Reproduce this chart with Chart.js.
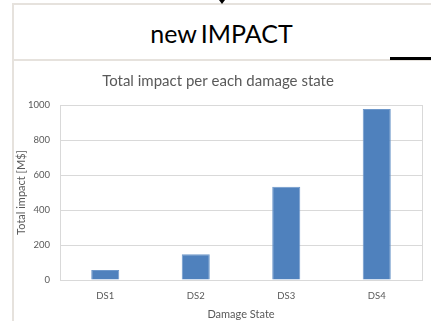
<!DOCTYPE html>
<html>
<head>
<meta charset="utf-8">
<script src="https://cdn.jsdelivr.net/npm/chart.js@4.4.0/dist/chart.umd.min.js"></script>
<style>
    html, body { margin: 0; padding: 0; background: #fff; }
    body { width: 431px; height: 321px; position: relative; overflow: hidden; font-family: Lato, 'Open Sans', sans-serif; }
    .frame-top { position: absolute; left: 12px; top: 3px; width: 419px; height: 2px; background: #e6e2dd; }
    .frame-left { position: absolute; left: 12px; top: 3px; width: 2px; height: 318px; background: #e6e2dd; }
    .divider { position: absolute; left: 12px; top: 59px; width: 419px; height: 2px; background: #e6e2dd; }
    .black-line { position: absolute; left: 390px; top: 57px; width: 41px; height: 3px; background: #000; }
    .arrow { position: absolute; left: 219px; top: 0px; width: 0; height: 0;
        border-left: 3px solid transparent; border-right: 3px solid transparent; border-top: 4px solid #000; }
    .heading { position: absolute; left: 12px; width: 419px; top: 15px; text-align: center;
        font-size: 25px; color: #000; line-height: 36px; word-spacing: -2px; }
    #chartWrap { position: absolute; left: 14px; top: 62px; width: 417px; height: 259px; }
</style>
</head>
<body>
<div class="frame-top"></div>
<div class="frame-left"></div>
<div class="divider"></div>
<div class="black-line"></div>
<div class="arrow"></div>
<div class="heading">new IMPACT</div>
<div id="chartWrap"><canvas id="impactChart"></canvas></div>

<script>
// chart data
const damageStates = ['DS1', 'DS2', 'DS3', 'DS4'];
const totalImpact = [57, 147, 533, 977];
const yTicks = [0, 200, 400, 600, 800, 1000];

const gray = '#595959';
const gridGray = '#d9d9d9';

// plot area outline like the Excel chart
const plotBorder = {
    id: 'plotBorder',
    beforeDatasetsDraw(chart) {
        const { ctx, chartArea: a } = chart;
        ctx.save();
        ctx.strokeStyle = gridGray;
        ctx.lineWidth = 1;
        ctx.strokeRect(Math.round(a.left) + 0.5, Math.round(a.top) + 0.5,
            Math.round(a.right - a.left), Math.round(a.bottom - a.top));
        ctx.restore();
    }
};

new Chart(document.getElementById('impactChart'), {
    type: 'bar',
    data: {
        labels: damageStates,
        datasets: [{
            data: totalImpact,
            backgroundColor: '#4f81bd',
            borderColor: '#6e98cb',
            borderWidth: 1,
            categoryPercentage: 1,
            barPercentage: 0.31
        }]
    },
    options: {
        responsive: true,
        maintainAspectRatio: false,
        animation: false,
        layout: { padding: { left: 0, right: 9, top: 0, bottom: 0 } },
        plugins: {
            legend: { display: false },
            tooltip: { enabled: false },
            title: {
                display: true,
                text: 'Total impact per each damage state',
                color: gray,
                font: { family: 'Lato', size: 15, weight: 'normal' },
                padding: { top: 10, bottom: 15 }
            }
        },
        scales: {
            x: {
                grid: { display: false, drawTicks: false },
                border: { display: true, color: gridGray },
                ticks: { color: gray, font: { family: 'Lato', size: 9.5 }, padding: 10 },
                title: {
                    display: true,
                    text: 'Damage State',
                    color: gray,
                    font: { family: 'Lato', size: 11 },
                    padding: { top: 3, bottom: 0 }
                },
                afterFit(scale) { scale.height = 41; }
            },
            y: {
                min: 0,
                max: 1000,
                afterBuildTicks(scale) { scale.ticks = yTicks.map(v => ({ value: v })); },
                grid: { color: gridGray, drawTicks: false },
                border: { display: true, color: gridGray },
                ticks: {
                    color: gray,
                    font: { family: 'Lato', size: 9.5 },
                    padding: 10,
                    callback: v => String(v)
                },
                title: {
                    display: true,
                    text: 'Total impact [M$]',
                    color: gray,
                    font: { family: 'Lato', size: 11 },
                    padding: { top: 1, bottom: 0 }
                },
                afterFit(scale) { scale.width = 46; }
            }
        }
    },
    plugins: [plotBorder]
});
</script>
</body>
</html>
